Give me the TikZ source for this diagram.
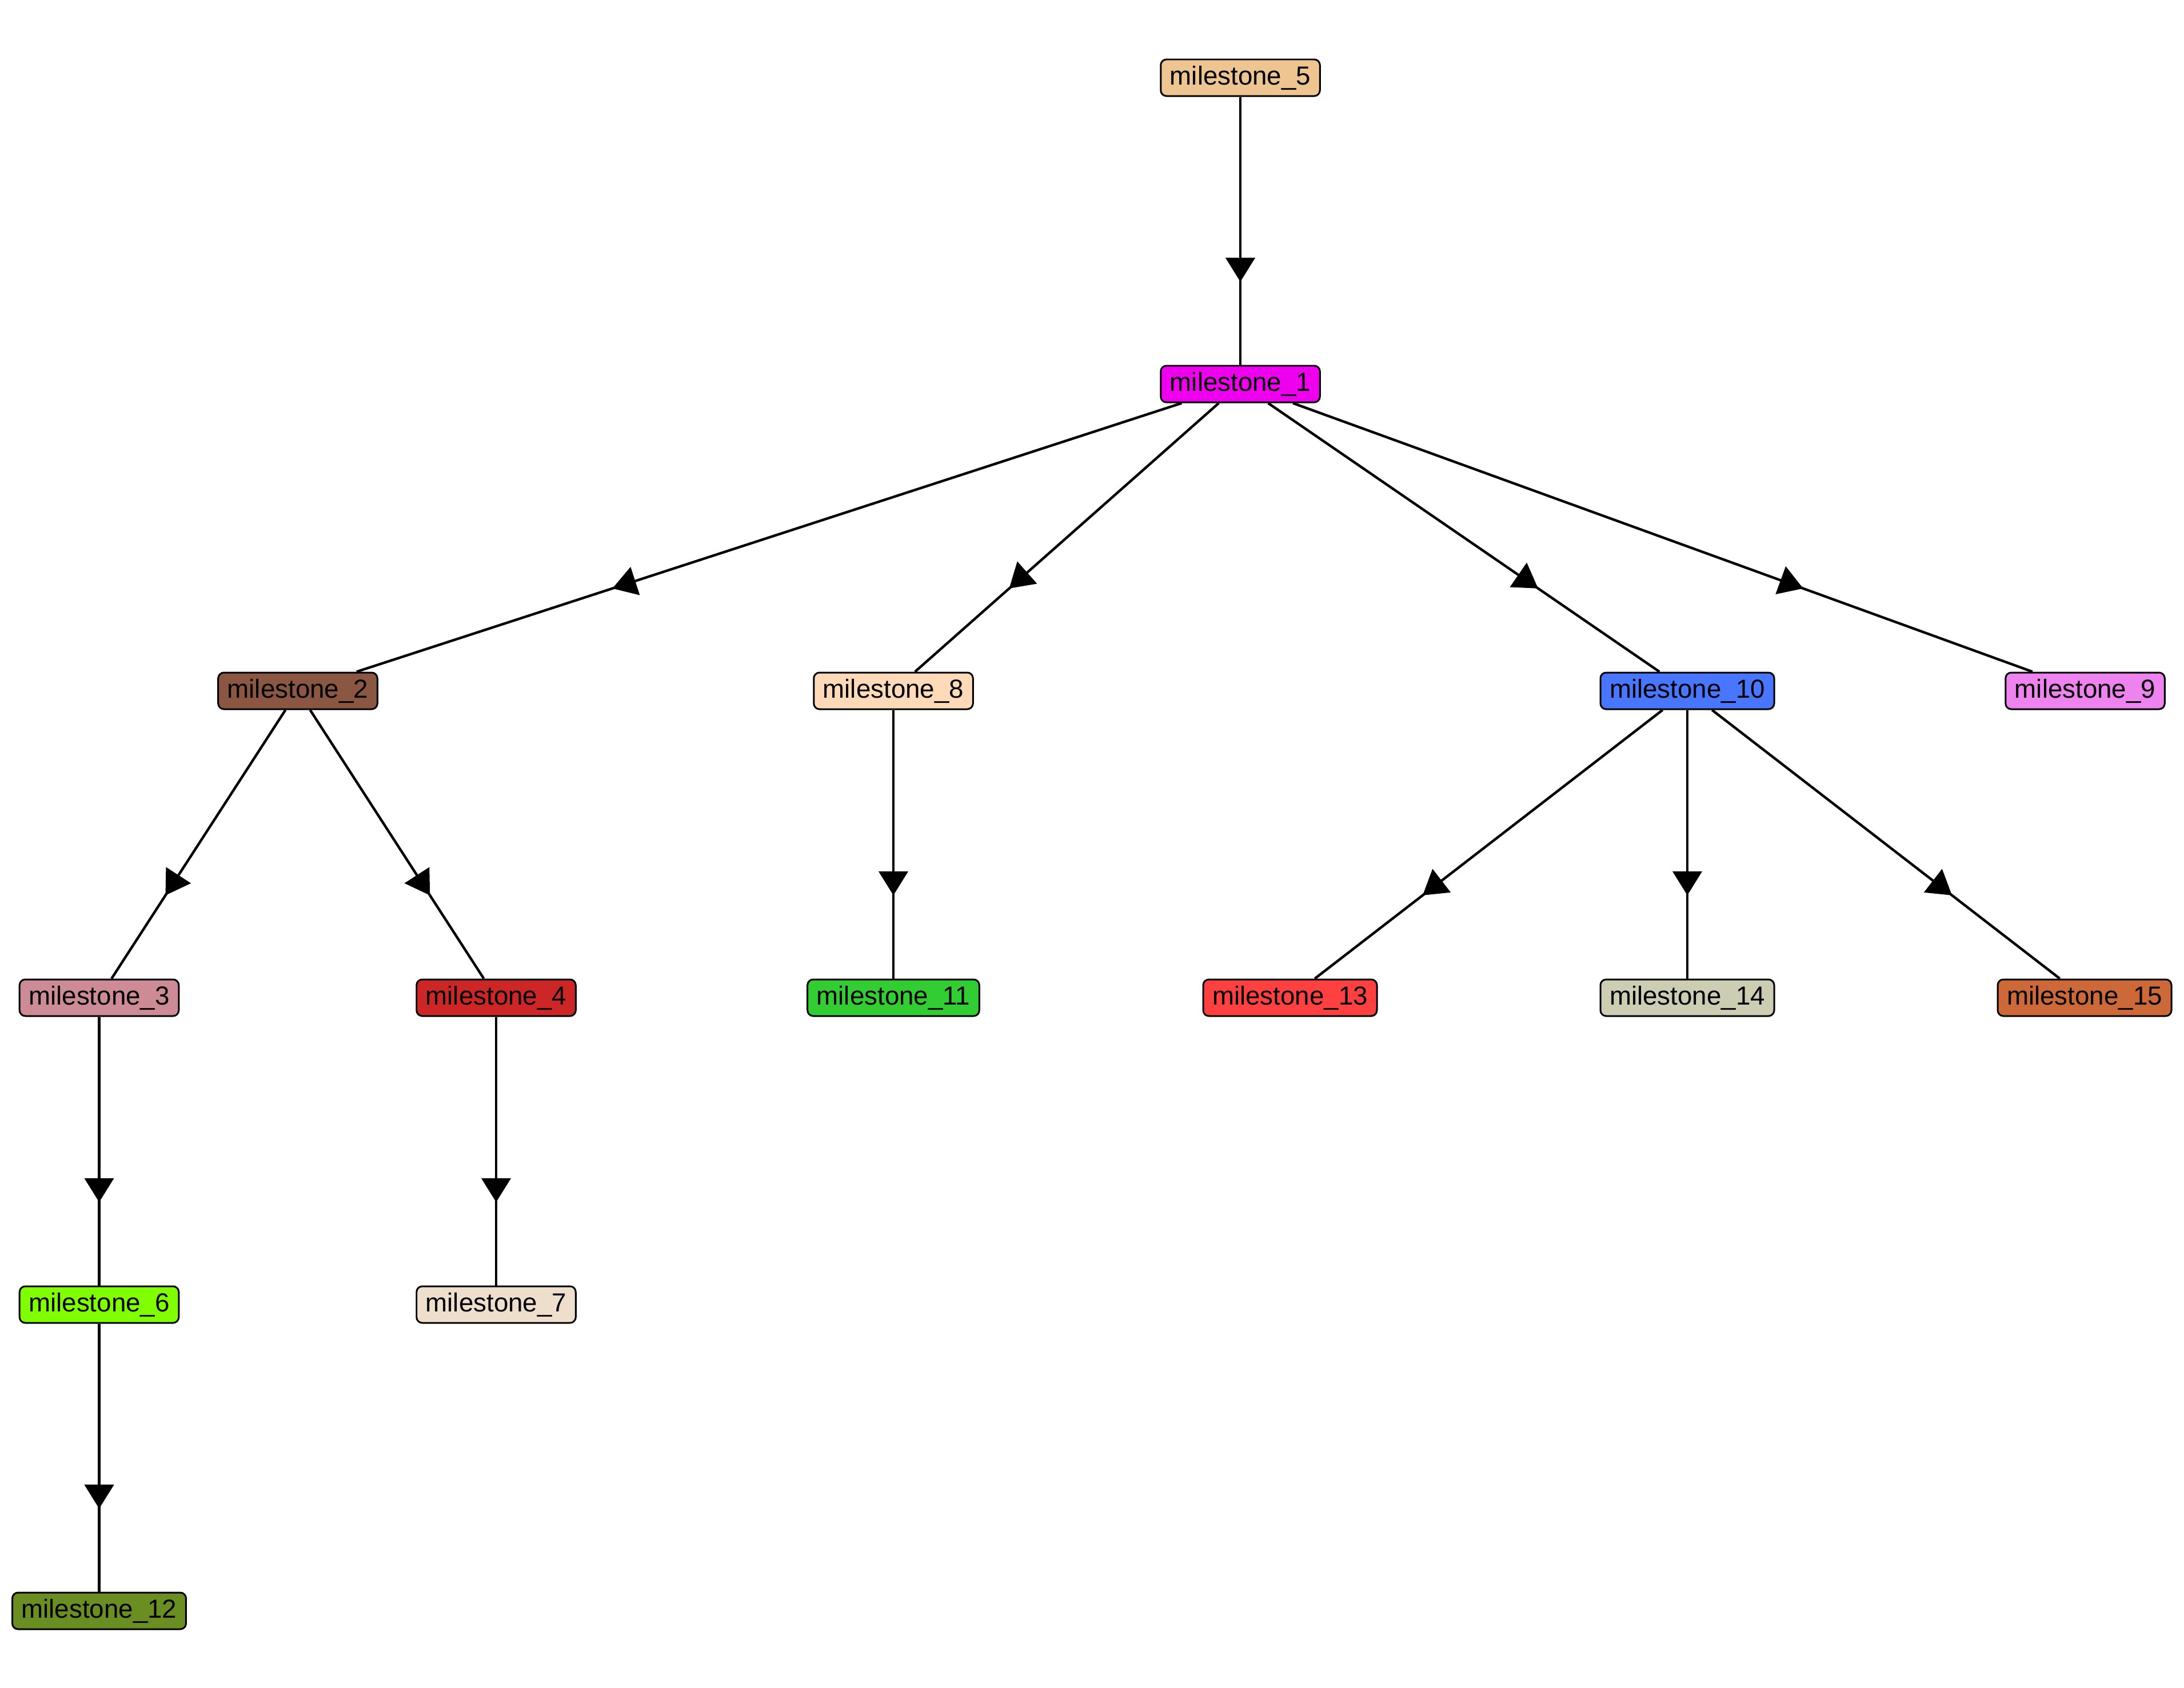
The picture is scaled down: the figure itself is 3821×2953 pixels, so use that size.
\documentclass[tikz,border=0pt]{standalone}
\usepackage{fontspec}
\setmainfont{Liberation Sans}
\usetikzlibrary{arrows.meta,decorations.markings}
\definecolor{c5}{RGB}{238,197,145}
\definecolor{c1}{RGB}{238,0,238}
\definecolor{c2}{RGB}{139,87,66}
\definecolor{c8}{RGB}{255,218,185}
\definecolor{c10}{RGB}{72,118,255}
\definecolor{c9}{RGB}{238,130,238}
\definecolor{c3}{RGB}{205,140,149}
\definecolor{c4}{RGB}{205,38,38}
\definecolor{c11}{RGB}{50,205,50}
\definecolor{c13}{RGB}{255,64,64}
\definecolor{c14}{RGB}{205,205,180}
\definecolor{c15}{RGB}{205,104,57}
\definecolor{c6}{RGB}{127,255,0}
\definecolor{c7}{RGB}{238,223,204}
\definecolor{c12}{RGB}{107,142,35}
\begin{document}
\begin{tikzpicture}[x=0.01cm,y=-0.01cm,
  ms/.style={draw=black,line width=0.85pt,rounded corners=0.1cm,
    minimum height=0.64cm,inner xsep=0.16cm,inner ysep=0pt,
    font=\fontsize{13}{15}\selectfont,text=black},
  link/.style={line width=1.25pt,draw=black,
    postaction={decorate},
    decoration={markings,mark=at position 0.69 with {\arrow{Triangle[length=0.42cm,width=0.51cm]}}}}]
\useasboundingbox (0,0) rectangle (3821,2953);
\node[ms,fill=c5]  (m5)  at (2170,136)  {milestone\_5};
\node[ms,fill=c1]  (m1)  at (2170,672)  {milestone\_1};
\node[ms,fill=c2]  (m2)  at (521,1209)  {milestone\_2};
\node[ms,fill=c8]  (m8)  at (1563,1209) {milestone\_8};
\node[ms,fill=c10] (m10) at (2952,1209) {milestone\_10};
\node[ms,fill=c9]  (m9)  at (3648,1209) {milestone\_9};
\node[ms,fill=c3]  (m3)  at (173.5,1746)  {milestone\_3};
\node[ms,fill=c4]  (m4)  at (868,1746)  {milestone\_4};
\node[ms,fill=c11] (m11) at (1563,1746) {milestone\_11};
\node[ms,fill=c13] (m13) at (2257,1746) {milestone\_13};
\node[ms,fill=c14] (m14) at (2952,1746) {milestone\_14};
\node[ms,fill=c15] (m15) at (3647,1746) {milestone\_15};
\node[ms,fill=c6]  (m6)  at (173.5,2283)  {milestone\_6};
\node[ms,fill=c7]  (m7)  at (868,2283)  {milestone\_7};
\node[ms,fill=c12] (m12) at (173.5,2819)  {milestone\_12};
\draw[link] (m5) -- (m1);
\draw[link] (m1) -- (m2);
\draw[link] (m1) -- (m8);
\draw[link] (m1) -- (m10);
\draw[link] (m1) -- (m9);
\draw[link] (m2) -- (m3);
\draw[link] (m2) -- (m4);
\draw[link] (m8) -- (m11);
\draw[link] (m10) -- (m13);
\draw[link] (m10) -- (m14);
\draw[link] (m10) -- (m15);
\draw[link] (m3) -- (m6);
\draw[link] (m4) -- (m7);
\draw[link] (m6) -- (m12);
\end{tikzpicture}
\end{document}
